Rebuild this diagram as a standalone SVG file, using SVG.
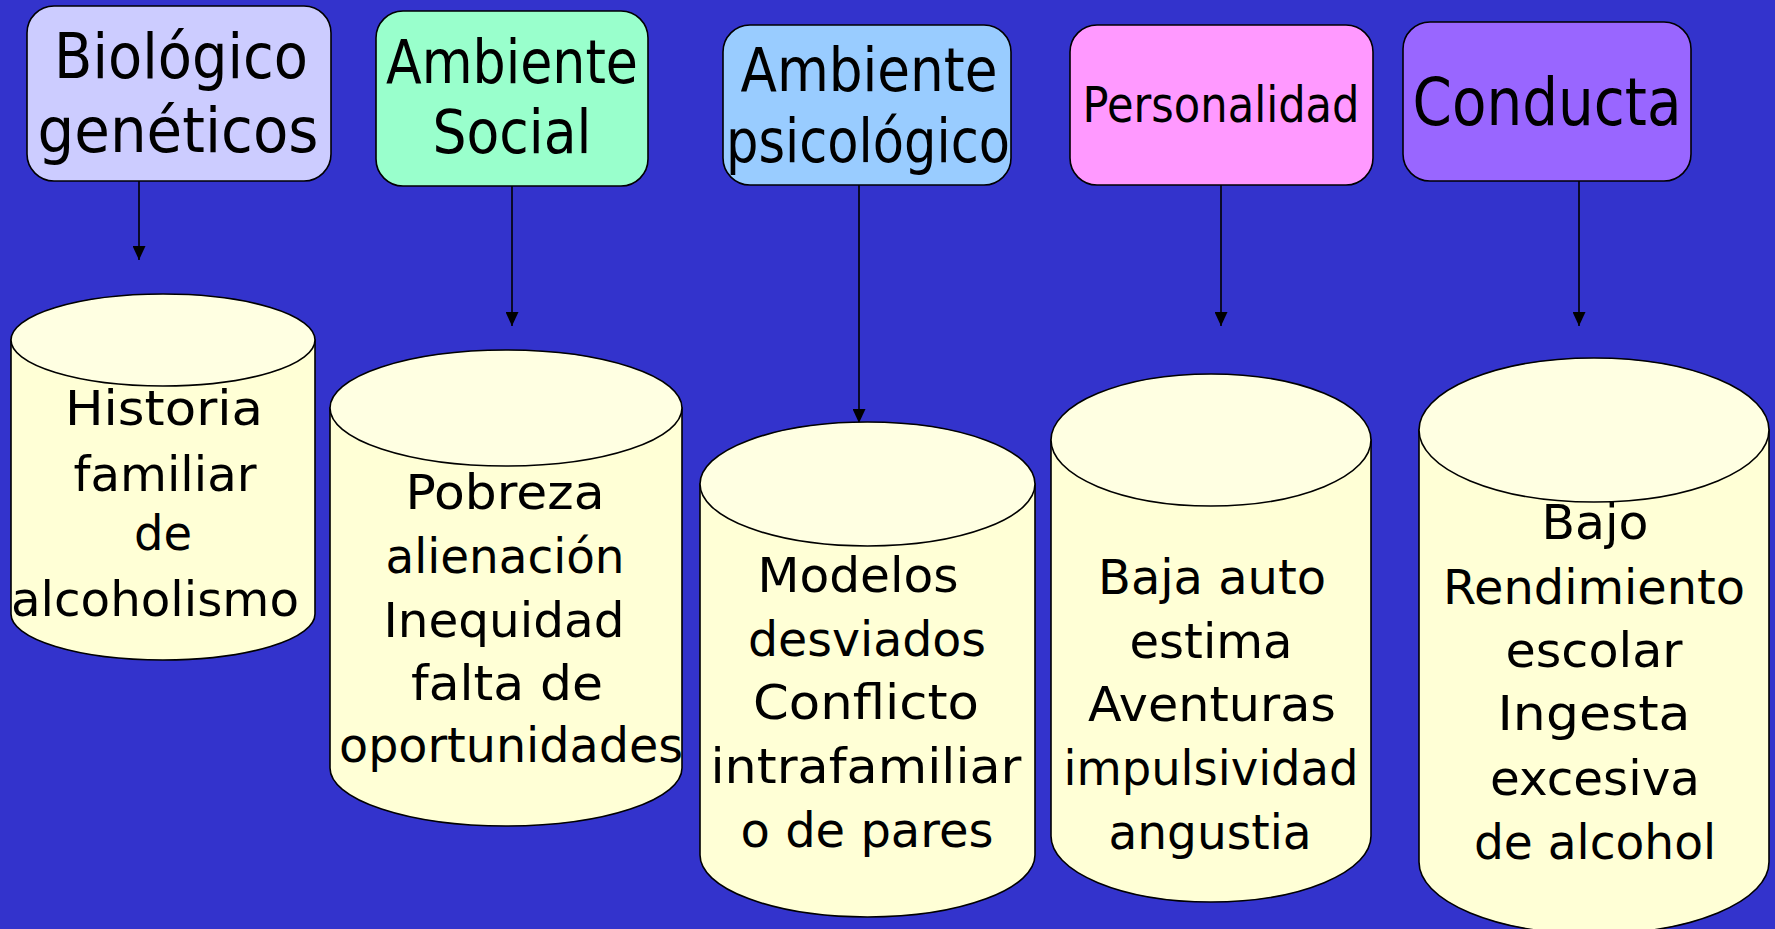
<svg xmlns="http://www.w3.org/2000/svg" width="1775" height="929" viewBox="0 0 1775 929">
<style>
.box{stroke:#000;stroke-width:1.6}
.cyl{fill:#ffffd6;stroke:#000;stroke-width:1.6}
.top{fill:#ffffe2;stroke:#000;stroke-width:1.6}
.t{font-family:"Comic Sans MS","DejaVu Sans",sans-serif;fill:#000;text-anchor:middle}
.h{font-size:63px}
.c{font-size:48px}
.conn{stroke:#000;stroke-width:1.6;fill:none}
</style>
<defs>
<marker id="ah" viewBox="0 0 14 13" refX="14" refY="6.5" markerWidth="14" markerHeight="13" markerUnits="userSpaceOnUse" orient="auto">
<path d="M0,0 L14,6.5 L0,13 Z" fill="#000"/>
</marker>
</defs>
<rect width="1775" height="929" fill="#3333cc"/>

<g id="connectors">
<line class="conn" x1="139" y1="181" x2="139" y2="260" marker-end="url(#ah)"/>
<line class="conn" x1="512" y1="186" x2="512" y2="326" marker-end="url(#ah)"/>
<line class="conn" x1="859" y1="185" x2="859" y2="423" marker-end="url(#ah)"/>
<line class="conn" x1="1221" y1="185" x2="1221" y2="326" marker-end="url(#ah)"/>
<line class="conn" x1="1579" y1="181" x2="1579" y2="326" marker-end="url(#ah)"/>
</g>

<g id="n-biologico">
<rect class="box" x="27" y="6" width="304" height="175" rx="27" fill="#ccccff"/>
<text class="t h" x="181" y="78" textLength="254" lengthAdjust="spacingAndGlyphs">Biológico</text>
<text class="t h" x="178" y="152" textLength="281" lengthAdjust="spacingAndGlyphs">genéticos</text>
</g>
<g id="n-social">
<rect class="box" x="376" y="11" width="272" height="175" rx="27" fill="#99ffcc"/>
<text class="t" style="font-size:60px" x="512" y="83" textLength="252" lengthAdjust="spacingAndGlyphs">Ambiente</text>
<text class="t" style="font-size:60px" x="512" y="153" textLength="159" lengthAdjust="spacingAndGlyphs">Social</text>
</g>
<g id="n-psicologico">
<rect class="box" x="723" y="25" width="288" height="160" rx="27" fill="#99ccff"/>
<text class="t" style="font-size:60px" x="869" y="91" textLength="257" lengthAdjust="spacingAndGlyphs">Ambiente</text>
<text class="t" style="font-size:60px" x="868" y="162" textLength="284" lengthAdjust="spacingAndGlyphs">psicológico</text>
</g>
<g id="n-personalidad">
<rect class="box" x="1070" y="25" width="303" height="160" rx="27" fill="#ff99ff"/>
<text class="t" style="font-size:50px" x="1221" y="122" textLength="277" lengthAdjust="spacingAndGlyphs">Personalidad</text>
</g>
<g id="n-conducta">
<rect class="box" x="1403" y="22" width="288" height="159" rx="27" fill="#9966ff"/>
<text class="t" style="font-size:66px" x="1547" y="125" textLength="269" lengthAdjust="spacingAndGlyphs">Conducta</text>
</g>

<g id="c-historia">
<path class="cyl" d="M11,340 L11,614 A152,46 0 0 0 315,614 L315,340 Z"/>
<ellipse class="top" cx="163" cy="340" rx="152" ry="46"/>
<text class="t c" x="164" y="425" textLength="198" lengthAdjust="spacingAndGlyphs">Historia</text>
<text class="t c" x="165" y="491" textLength="183" lengthAdjust="spacingAndGlyphs">familiar</text>
<text class="t c" x="163" y="550" textLength="58" lengthAdjust="spacingAndGlyphs">de</text>
<text class="t c" x="155" y="616" textLength="288" lengthAdjust="spacingAndGlyphs">alcoholismo</text>
</g>
<g id="c-pobreza">
<path class="cyl" d="M330,408 L330,768 A176,58 0 0 0 682,768 L682,408 Z"/>
<ellipse class="top" cx="506" cy="408" rx="176" ry="58"/>
<text class="t c" x="505" y="509" textLength="199" lengthAdjust="spacingAndGlyphs">Pobreza</text>
<text class="t c" x="505" y="573" textLength="239" lengthAdjust="spacingAndGlyphs">alienación</text>
<text class="t c" x="504" y="637" textLength="241" lengthAdjust="spacingAndGlyphs">Inequidad</text>
<text class="t c" x="507" y="700" textLength="192" lengthAdjust="spacingAndGlyphs">falta de</text>
<text class="t c" x="511" y="762" textLength="344" lengthAdjust="spacingAndGlyphs">oportunidades</text>
</g>
<g id="c-modelos">
<path class="cyl" d="M700,484 L700,855 A167.5,62 0 0 0 1035,855 L1035,484 Z"/>
<ellipse class="top" cx="867.5" cy="484" rx="167.5" ry="62"/>
<text class="t c" x="858" y="592" textLength="201" lengthAdjust="spacingAndGlyphs">Modelos</text>
<text class="t c" x="867" y="656" textLength="238" lengthAdjust="spacingAndGlyphs">desviados</text>
<text class="t c" x="866" y="719" textLength="226" lengthAdjust="spacingAndGlyphs">Conflicto</text>
<text class="t c" x="866" y="783" textLength="311" lengthAdjust="spacingAndGlyphs">intrafamiliar</text>
<text class="t c" x="867" y="847" textLength="253" lengthAdjust="spacingAndGlyphs">o de pares</text>
</g>
<g id="c-baja">
<path class="cyl" d="M1051,440 L1051,836 A160,66 0 0 0 1371,836 L1371,440 Z"/>
<ellipse class="top" cx="1211" cy="440" rx="160" ry="66"/>
<text class="t c" x="1212" y="594" textLength="228" lengthAdjust="spacingAndGlyphs">Baja auto</text>
<text class="t c" x="1211" y="658" textLength="163" lengthAdjust="spacingAndGlyphs">estima</text>
<text class="t c" x="1212" y="721" textLength="248" lengthAdjust="spacingAndGlyphs">Aventuras</text>
<text class="t c" x="1211" y="785" textLength="295" lengthAdjust="spacingAndGlyphs">impulsividad</text>
<text class="t c" x="1210" y="849" textLength="203" lengthAdjust="spacingAndGlyphs">angustia</text>
</g>
<g id="c-bajo">
<path class="cyl" d="M1419,430 L1419,862 A175,72 0 0 0 1769,862 L1769,430 Z"/>
<ellipse class="top" cx="1594" cy="430" rx="175" ry="72"/>
<text class="t c" x="1595" y="539" textLength="107" lengthAdjust="spacingAndGlyphs">Bajo</text>
<text class="t c" x="1594" y="604" textLength="302" lengthAdjust="spacingAndGlyphs">Rendimiento</text>
<text class="t c" x="1594" y="667" textLength="177" lengthAdjust="spacingAndGlyphs">escolar</text>
<text class="t c" x="1594" y="730" textLength="193" lengthAdjust="spacingAndGlyphs">Ingesta</text>
<text class="t c" x="1595" y="795" textLength="210" lengthAdjust="spacingAndGlyphs">excesiva</text>
<text class="t c" x="1595" y="859" textLength="242" lengthAdjust="spacingAndGlyphs">de alcohol</text>
</g>
</svg>
